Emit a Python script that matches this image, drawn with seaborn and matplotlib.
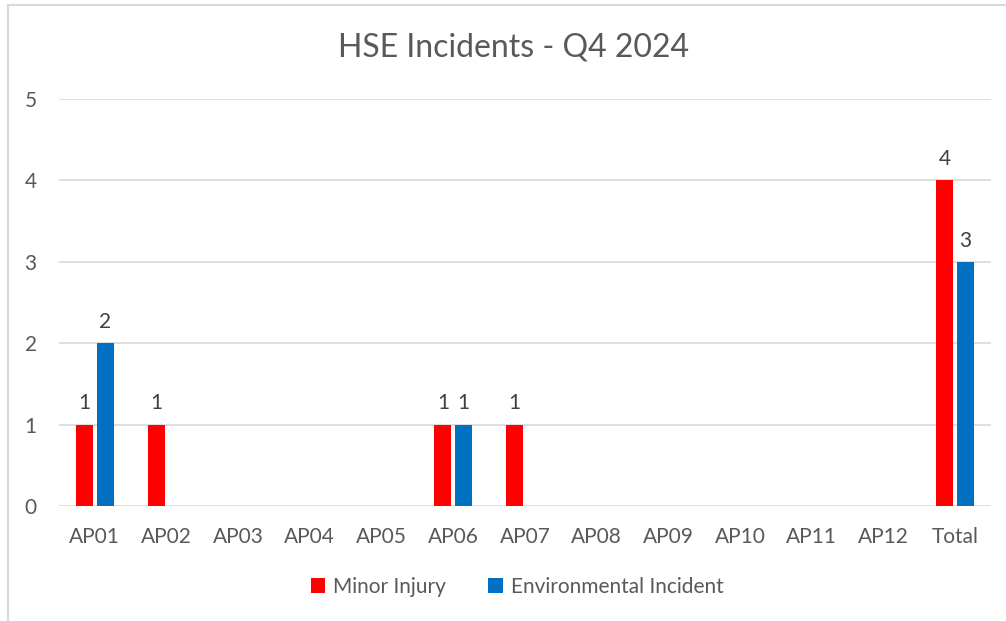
import matplotlib
matplotlib.use("Agg")
import matplotlib.pyplot as plt
import seaborn as sns
import pandas as pd
from matplotlib.lines import Line2D
from matplotlib.patches import Patch

categories = ["AP01", "AP02", "AP03", "AP04", "AP05", "AP06", "AP07",
              "AP08", "AP09", "AP10", "AP11", "AP12", "Total"]
minor_injury = [1, 1, 0, 0, 0, 1, 1, 0, 0, 0, 0, 0, 4]
environmental = [2, 0, 0, 0, 0, 1, 0, 0, 0, 0, 0, 0, 3]
series_names = ["Minor Injury", "Environmental Incident"]
colors = ["#FF0000", "#0070C0"]
title = "HSE Incidents - Q4 2024"

df = pd.DataFrame({
    "Category": categories * 2,
    "Series": [series_names[0]] * len(categories) + [series_names[1]] * len(categories),
    "Value": minor_injury + environmental,
})

sns.set_theme(style="white")
plt.rcParams["font.family"] = ["Lato", "DejaVu Sans"]

fig = plt.figure(figsize=(10.06, 6.21), dpi=100)
ax = fig.add_axes([0.0586, 0.1852, 0.9264, 0.6554])

sns.barplot(data=df, x="Category", y="Value", hue="Series", order=categories,
            hue_order=series_names, palette=colors, width=0.572, gap=0.17,
            ax=ax, legend=False, saturation=1, linewidth=0)

ax.set_ylim(0, 5)
ax.set_xlim(-0.5, len(categories) - 0.5)
ax.set_yticks(range(0, 6))
ax.yaxis.grid(True, color="#D9D9D9", linewidth=1.2)
ax.set_axisbelow(True)
for s in ax.spines.values():
    s.set_visible(False)
ax.set_xlabel("")
ax.set_ylabel("")
ax.tick_params(axis="x", length=0, pad=15, labelsize=15, labelcolor="#595959")
ax.tick_params(axis="y", length=0, pad=16, labelsize=15, labelcolor="#595959")

for cont in ax.containers:
    for bar in cont:
        h = bar.get_height()
        if h > 0:
            ax.annotate(f"{int(h)}", (bar.get_x() + bar.get_width() / 2, h),
                        xytext=(0, 8), textcoords="offset points",
                        ha="center", va="bottom", fontsize=15, color="#404040")

fig.text(0.51, 0.924, title, ha="center", va="center", fontsize=23, color="#595959")

handles = [Patch(facecolor=c, edgecolor="none") for c in colors]
fig.legend(handles, series_names, loc="center", bbox_to_anchor=(0.514, 0.055),
           ncol=2, frameon=False, fontsize=15, handlelength=0.7, handleheight=0.7,
           handletextpad=0.4, columnspacing=2.0, labelcolor="#595959")

fig.add_artist(Line2D([0.008, 0.008], [0, 0.992], color="#D9D9D9", linewidth=1.5,
                      transform=fig.transFigure))
fig.add_artist(Line2D([0.008, 1.0], [0.992, 0.992], color="#D9D9D9", linewidth=1.5,
                      transform=fig.transFigure))

fig.savefig("out.png", dpi=100)
